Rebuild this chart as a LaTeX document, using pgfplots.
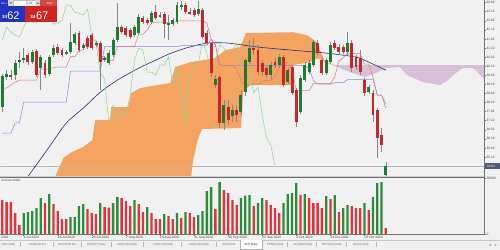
\documentclass[border=0pt]{standalone}
\usepackage{pgfplots}
\pgfplotsset{compat=1.18}
\usepackage{pgfplotstable}
\usepackage{fontspec}
\setmainfont{Liberation Sans}

\definecolor{bg}{RGB}{241,241,241}
\definecolor{bull}{RGB}{28,125,50}
\definecolor{bear}{RGB}{200,38,44}
\definecolor{wick}{RGB}{135,135,135}
\definecolor{volup}{RGB}{44,140,58}
\definecolor{voldn}{RGB}{222,52,58}
\definecolor{kumoup}{RGB}{244,164,96}
\definecolor{kumodn}{RGB}{216,191,216}
\definecolor{tenkan}{RGB}{222,120,120}
\definecolor{kijun}{RGB}{135,135,225}
\definecolor{chikou}{RGB}{140,215,140}
\definecolor{sma}{RGB}{40,45,110}
\definecolor{axisgray}{RGB}{115,115,115}
\definecolor{txt}{RGB}{70,70,70}
\definecolor{tabtxt}{RGB}{115,115,115}
\definecolor{ocblue}{RGB}{32,52,190}
\definecolor{ocred}{RGB}{208,36,36}
\definecolor{pricebox}{RGB}{80,90,118}

\newcommand{\axfont}{\fontsize{3.3}{4}\selectfont}
\newcommand{\tabfont}{\fontsize{3}{3.6}\selectfont}

% WTI daily candles: bar index, open, high, low, close
\pgfplotstableread{
i o h l c
0 37.87 39.68 37.59 39.57
1 39.52 39.90 39.35 39.68
2 39.52 39.90 39.35 39.63
3 39.63 40.45 39.35 40.29
4 40.34 40.89 40.01 40.45
5 40.45 41.11 40.29 40.56
7 40.34 41.00 40.23 40.89
9 40.01 40.73 38.80 40.62
11 39.68 40.73 39.57 40.62
12 40.73 41.28 40.62 41.11
15 40.84 41.00 40.73 40.89
16 40.89 42.49 40.78 41.44
17 41.39 41.99 41.28 41.88
19 41.11 41.39 41.00 41.28
22 41.28 41.50 41.17 41.39
24 40.45 40.67 40.34 40.56
25 40.29 41.00 40.18 40.84
26 40.73 41.66 40.62 41.55
27 41.55 43.59 41.44 42.27
31 41.83 42.38 41.72 42.27
32 41.94 42.98 41.83 42.82
35 42.54 43.15 42.43 43.04
37 42.87 43.09 42.76 42.93
39 42.38 42.93 41.55 42.49
40 42.43 42.76 42.32 42.65
41 42.54 43.64 42.43 43.48
42 43.37 43.70 43.20 43.48
46 42.98 43.70 42.87 43.26
50 39.08 39.63 38.91 39.41
52 36.99 38.25 36.60 37.98
54 37.37 37.98 37.04 37.70
56 37.59 38.80 37.43 38.53
57 38.69 40.56 38.47 40.45
58 40.34 41.55 40.23 41.11
63 39.63 40.34 39.41 40.18
65 40.18 40.78 40.01 40.62
67 39.24 40.01 39.13 39.90
70 37.59 39.63 37.48 39.46
71 39.35 40.34 39.24 40.18
72 39.79 40.45 39.68 40.29
73 40.18 41.55 40.07 41.44
76 39.74 40.56 39.63 40.45
77 40.34 41.44 40.23 41.28
81 40.89 41.99 40.73 41.39
86 38.69 39.08 38.58 38.97
90 34.13 34.84 34.07 34.62
}\bulltab

\pgfplotstableread{
i o h l c
6 40.73 40.84 40.18 40.34
8 40.95 41.06 39.52 39.63
10 40.29 40.45 39.46 39.63
13 41.17 41.33 40.73 40.84
14 41.00 41.11 40.62 40.73
18 41.94 42.05 40.89 41.00
20 41.66 41.77 41.06 41.17
21 41.83 41.94 41.00 41.11
23 41.39 41.50 38.80 40.34
28 42.27 42.38 41.88 41.99
29 42.21 42.32 41.72 41.83
30 42.10 42.21 41.61 41.72
33 42.76 42.87 42.43 42.54
34 42.65 42.76 42.38 42.49
36 43.09 43.48 42.65 42.76
38 42.98 43.09 41.66 42.43
43 43.48 43.59 42.98 43.09
44 43.09 43.31 42.93 43.04
45 43.20 43.31 42.82 42.93
47 43.20 43.31 41.61 41.72
48 41.94 42.10 41.28 41.39
49 41.39 41.44 39.52 39.74
51 39.52 39.63 36.71 36.99
53 37.87 38.25 36.88 37.15
55 37.70 37.92 37.04 37.43
59 41.11 41.66 40.73 41.00
60 41.00 41.28 39.63 39.79
61 40.29 40.45 39.57 39.79
62 40.01 40.12 39.46 39.63
64 40.34 40.56 40.01 40.18
66 40.62 40.73 38.97 39.08
68 40.07 40.18 38.53 38.64
69 38.80 38.91 36.77 37.04
74 41.39 41.55 40.73 40.84
75 40.45 40.56 39.63 39.74
78 41.39 41.55 41.00 41.11
79 41.17 41.33 40.73 40.89
80 41.17 41.28 40.78 40.89
82 41.39 41.55 39.79 40.01
83 40.62 40.73 39.90 40.07
84 40.56 41.00 39.63 39.79
85 39.35 39.46 38.47 38.64
87 38.64 38.80 37.04 37.43
88 37.70 37.81 35.06 36.16
89 36.33 36.71 35.39 35.78
}\beartab

% tick volume, rising and falling bars
\pgfplotstableread{
i v
5 21000
6 22000
7 23000
8 26000
9 36000
11 40000
16 16800
17 17000
18 28000
19 30000
23 31000
26 31000
27 37000
31 34000
34 27000
38 20000
41 21000
43 22000
46 19000
47 23000
48 43000
49 47000
51 52000
56 36000
57 38500
58 39000
60 31000
61 36000
66 31000
67 40000
68 41000
69 51000
71 40000
76 38000
78 39000
80 26000
81 29000
85 31000
87 37000
88 51000
89 52000
}\volumeup

\pgfplotstableread{
i v
0 34000
1 32000
2 31800
3 21000
4 9000
10 31000
12 30000
13 23000
14 15000
15 15000
20 25000
21 21000
22 20000
24 27000
25 26500
28 36000
29 33000
30 28000
32 30000
33 22000
35 21000
36 15000
37 14800
39 18000
40 15000
42 16000
44 21000
45 17000
50 25000
52 44000
53 41000
54 34000
55 29000
59 28000
62 34000
63 29000
64 26000
65 21000
70 39000
72 36000
73 31000
74 30800
75 26000
77 35000
79 22000
82 28000
83 26000
84 25800
86 24000
90 6000
}\volumedown

\begin{document}
\begin{tikzpicture}
\begin{scope}[x=1bp,y=1bp]
\fill[bg] (0,0) rectangle (500,250);
\end{scope}

% ---------------- price window ----------------
\begin{axis}[
  at={(0bp,73.5bp)}, anchor=south west, scale only axis,
  width=484.3bp, height=176.5bp,
  xmin=-0.469, xmax=113.08, ymin=34.04, ymax=43.75,
  axis x line*=bottom, axis y line*=right,
  xtick=\empty,
  ytick={35.12,35.62,36.12,36.62,37.12,37.62,38.12,38.62,39.12,39.62,40.12,40.62,41.12,41.62,42.12,42.62,43.12,43.62},
  yticklabel={\pgfmathprintnumber[fixed,fixed zerofill,precision=2]{\tick}},
  /pgf/number format/assume math mode=true,
  yticklabel style={font=\axfont, text=txt, inner sep=0.6bp, anchor=west},
  tick align=outside, major tick length=1.6bp,
  axis line style={draw=axisgray, line width=0.5bp},
  ytick style={draw=axisgray, line width=0.4bp},
]
% Kumo: rising cloud
\addplot[fill=kumoup, draw=none] coordinates {
(12.4,34.04)(14.3,35.06)(15.94,35.34)(18.99,35.67)(21.1,36.05)(21.8,37.15)
(25.32,37.15)(25.56,37.87)(29.54,37.87)(30.25,38.64)(32.36,38.91)(36.34,39.08)
(39.39,39.19)(40.56,40.07)(44.08,40.34)(49.94,40.56)(52.29,41.00)(55.8,41.17)
(57.2,41.94)(68.23,41.99)(71.51,41.83)(73.86,41.44)(75.73,40.34)(74.09,40.56)
(72.22,40.34)(68.23,40.18)(67.76,39.08)(58.15,39.08)(56.51,38.69)(56.04,36.71)
(46.89,36.66)(45.96,36.16)(44.78,34.95)(44.31,34.04)} -- cycle;
% Kumo: falling cloud
\addplot[fill=kumodn, draw=none] coordinates {
(75.73,40.34)(78.1,40.18)(113.08,40.18)(113.08,39.40)(111.6,39.79)
(110.4,40.01)(108.1,40.01)(106.7,39.79)(104.3,39.30)(102.7,39.08)(98.7,39.24)
(95.0,39.63)(93.3,40.07)(89.8,40.01)(88.2,39.79)(85.1,39.52)(81.6,39.79)(78.1,40.12)} -- cycle;

% current bid line
\addplot[draw=gray!55, line width=0.4bp] coordinates {(-0.469,34.62) (113.08,34.62)};

% moving average
\addplot[draw=sma, line width=0.6bp, smooth, tension=0.4] coordinates {
(6,34.04)(11,35.67)(15,36.99)(19,37.81)(23,38.69)(27,39.35)(32,40.01)
(36,40.45)(39,40.78)(43,41.11)(48,41.39)(53,41.39)(60,41.17)(68,41.00)(76,40.84)
(83,40.62)(86,40.34)(90,39.90)};

% Kijun-sen
\addplot[draw=kijun, line width=0.5bp] coordinates {
(0,36.43)(2,36.43)(3,36.99)(4,36.99)(5,38.14)(15,38.14)(16,39.85)(23,39.85)
(24,41.19)(41,41.19)(42,41.25)(48,41.25)(49,41.61)(50,41.30)(51,40.20)(52,40.15)
(71,40.15)(72,39.96)(73,39.35)(74,39.13)(77,39.13)(78,39.21)(80,39.21)(81,39.38)
(87,39.38)(88,38.53)(89,38.53)(90,38.03)};

% Tenkan-sen
\addplot[draw=tenkan, line width=0.5bp] coordinates {
(0,38.91)(1,38.91)(2,39.08)(3,39.24)(4,39.35)(8,39.35)(9,39.96)(11,39.96)(12,40.04)
(13,40.07)(15,40.07)(16,40.64)(17,40.64)(18,40.97)(19,41.03)(20,41.55)(22,41.55)
(23,40.64)(24,40.64)(25,40.42)(26,40.42)(27,41.19)(31,41.19)(32,41.88)(33,41.88)
(34,42.10)(35,42.51)(36,42.54)(38,42.54)(39,42.51)(40,42.51)(41,42.60)(42,42.62)
(47,42.62)(48,42.49)(49,41.61)(50,41.30)(51,40.20)(52,40.15)(54,40.15)(55,39.96)
(56,39.35)(57,39.02)(58,39.08)(59,39.13)(60,39.13)(61,39.27)(62,39.35)(63,39.35)
(64,39.54)(65,40.07)(66,40.31)(67,40.31)(68,39.90)(69,38.77)(72,38.77)(73,39.16)
(77,39.16)(78,39.52)(79,40.40)(80,40.59)(81,40.81)(84,40.81)(85,40.23)(86,40.23)
(87,39.52)(88,38.53)(89,38.53)(90,37.81)};

% Chikou span (close shifted back 26 bars)
\addplot[draw=chikou, line width=0.5bp] coordinates {
(0,41.55)(1,42.27)(2,41.99)(3,41.83)(4,41.72)(5,42.27)(6,42.82)(7,42.54)(8,42.49)
(9,43.04)(10,42.76)(11,42.93)(12,42.43)(13,42.49)(14,42.65)(15,43.48)(16,43.48)
(17,43.09)(18,43.04)(19,42.93)(20,43.26)(21,41.72)(22,41.39)(23,39.74)(24,39.41)
(25,36.99)(26,37.98)(27,37.15)(28,37.70)(29,37.43)(30,38.53)(31,40.45)(32,41.11)
(33,41.00)(34,39.79)(35,39.79)(36,39.63)(37,40.18)(38,40.18)(39,40.62)(40,39.08)
(41,39.90)(42,38.64)(43,37.04)(44,39.46)(45,40.18)(46,40.29)(47,41.44)(48,40.84)
(49,39.74)(50,40.45)(51,41.28)(52,41.11)(53,40.89)(54,40.89)(55,41.39)(56,40.01)
(57,40.07)(58,39.79)(59,38.64)(60,38.97)(61,37.43)(62,36.16)(63,35.78)(64,34.62)};

% candle wicks
\addplot[forget plot, draw=none, mark=none,
  error bars/.cd, y dir=both, y explicit, error mark=none,
  error bar style={draw=wick, line width=0.5bp, solid}]
  table[x=i, y expr={(\thisrow{h}+\thisrow{l})/2}, y error expr={(\thisrow{h}-\thisrow{l})/2}] {\bulltab};
\addplot[forget plot, draw=none, mark=none,
  error bars/.cd, y dir=both, y explicit, error mark=none,
  error bar style={draw=wick, line width=0.5bp, solid}]
  table[x=i, y expr={(\thisrow{h}+\thisrow{l})/2}, y error expr={(\thisrow{h}-\thisrow{l})/2}] {\beartab};
% candle bodies
\addplot[forget plot, draw=none, mark=none,
  error bars/.cd, y dir=both, y explicit, error mark=none,
  error bar style={draw=bull, line width=2.9bp, solid}]
  table[x=i, y expr={(\thisrow{o}+\thisrow{c})/2}, y error expr={max(abs(\thisrow{c}-\thisrow{o})/2,0.02)}] {\bulltab};
\addplot[forget plot, draw=none, mark=none,
  error bars/.cd, y dir=both, y explicit, error mark=none,
  error bar style={draw=bear, line width=2.9bp, solid}]
  table[x=i, y expr={(\thisrow{o}+\thisrow{c})/2}, y error expr={max(abs(\thisrow{c}-\thisrow{o})/2,0.02)}] {\beartab};
\end{axis}

% ---------------- volume window ----------------
\begin{axis}[
  at={(0bp,16bp)}, anchor=south west, scale only axis,
  width=484.3bp, height=56bp,
  xmin=-0.469, xmax=113.08, ymin=0, ymax=56000,
  axis x line*=bottom, axis y line*=right,
  xtick={5,13,21,29,37,45,53,61,69,77,85},
  xticklabels={6 Jul 2020,16 Jul 2020,28 Jul 2020,7 Aug 2020,19 Aug 2020,31 Aug 2020,10 Sep 2020,22 Sep 2020,2 Oct 2020,14 Oct 2020,26 Oct 2020},
  xticklabel style={font=\axfont, text=txt, anchor=north west, inner sep=0.5bp, xshift=-0.5bp},
  ytick={0,56000}, yticklabels={0,56000}, scaled y ticks=false,
  yticklabel style={font=\axfont, text=txt, inner sep=0.6bp, anchor=west},
  tick align=outside, major tick length=1.6bp,
  axis line style={draw=axisgray, line width=0.5bp},
  tick style={draw=axisgray, line width=0.4bp},
]
\addplot[ybar, bar width=2.3bp, bar shift=0pt, fill=volup, draw=none] table[x=i, y=v] {\volumeup};
\addplot[ybar, bar width=2.3bp, bar shift=0pt, fill=voldn, draw=none] table[x=i, y=v] {\volumedown};
\end{axis}

\begin{scope}[x=1bp,y=1bp]
% window separator
\fill[gray!40] (0,72) rectangle (484.3,73.6);
\draw[axisgray, line width=0.7bp] (0,73.2) -- (484.3,73.2);
\draw[axisgray, line width=0.5bp] (484.3,72) -- (484.3,73.6);

% tail of the first date label at the left edge
\node[anchor=north west, font=\axfont, text=txt, inner sep=0.5bp] at (0.2,14.4) {2020};
% indicator caption
\node[anchor=north west, font=\fontsize{3}{3.5}\selectfont, text=txt, inner sep=0pt] at (0.8,71) {Volumes 6000};

% current price flag on the price scale
\fill[pricebox] (484.8,81.5) rectangle (500,86.6);
\node[font=\axfont, text=white, inner sep=0pt, anchor=west] at (486.9,84.05) {34.62};

% ---------------- symbol tabs ----------------
\fill[gray!12] (0,0) rectangle (500,10);
\draw[gray!45, line width=0.4bp] (0,10) -- (500,10);
\fill[white] (240,0.6) rectangle (262,10);
\draw[gray!60, line width=0.4bp] (240,10) -- (240,0.6) -- (262,0.6) -- (262,10);
\foreach \sx in {20,53,81,111,143,181,216,287,316,346,376}
  \draw[gray!55, line width=0.3bp] (\sx,2.5) -- (\sx,8);
\begin{scope}[every node/.style={font=\tabfont, text=tabtxt, inner sep=0pt}]
\node at (8,5) {USD,Daily};
\node at (37,5) {USDCAD,H1};
\node at (67,5) {EURUSD,M1};
\node at (96,5) {USDJPY,Daily};
\node at (127,5) {NZDUSD,Daily};
\node at (163,5) {USDCHF,Daily};
\node at (199,5) {AUDUSD,Daily};
\node at (229,5) {GOLD,M1};
\node[text=black!80] at (251,5) {WTI,Daily};
\node at (275,5) {SP500,Daily};
\node at (303,5) {AUS200,Daily};
\node at (332,5) {BTCUSD,Daily};
\node at (361,5) {NGAS,Daily};
\end{scope}
\fill[gray!60] (489,5) -- (491,6.3) -- (491,3.7) -- cycle;
\fill[gray!60] (497,5) -- (495,6.3) -- (495,3.7) -- cycle;

% ---------------- one-click trading panel ----------------
\fill[ocblue] (0,244) rectangle (7.6,250);
\node[font=\fontsize{2.6}{3}\selectfont, text=white, inner sep=0pt] at (3.8,247) {SELL};
\fill[gray!30] (8,244) rectangle (13,250);
\fill[gray!75!black] (9.4,247.8) -- (11.6,247.8) -- (10.5,246.3) -- cycle;
\fill[white] (13,244) rectangle (35,250);
\draw[gray!50, line width=0.3bp] (13,244) rectangle (35,250);
\node[font=\fontsize{3.3}{4}\selectfont, text=black!75, inner sep=0pt] at (29,247) {0.01};
\fill[gray!30] (35,244) rectangle (40,250);
\fill[gray!75!black] (36.4,246.3) -- (38.6,246.3) -- (37.5,247.8) -- cycle;
\fill[ocred!85] (40,244) rectangle (57,250);
\node[font=\fontsize{2.8}{3}\selectfont, text=white, inner sep=0pt] at (49.5,247) {BUY};
\fill[ocblue] (0,228) rectangle (24.4,244);
\fill[ocred] (25,228) rectangle (57,244);
\node[anchor=base west, font=\fontsize{4.6}{5}\selectfont\bfseries, text=white, inner sep=0pt] at (1.6,231.8) {34};
\node[anchor=base west, font=\fontsize{11}{12}\selectfont, text=white, inner sep=0pt] at (6.8,230.6) {62};
\node[anchor=base west, font=\fontsize{4.6}{5}\selectfont\bfseries, text=white, inner sep=0pt] at (29.8,231.8) {34};
\node[anchor=base west, font=\fontsize{11}{12}\selectfont, text=white, inner sep=0pt] at (35.5,230.6) {67};
\end{scope}
\end{tikzpicture}
\end{document}
